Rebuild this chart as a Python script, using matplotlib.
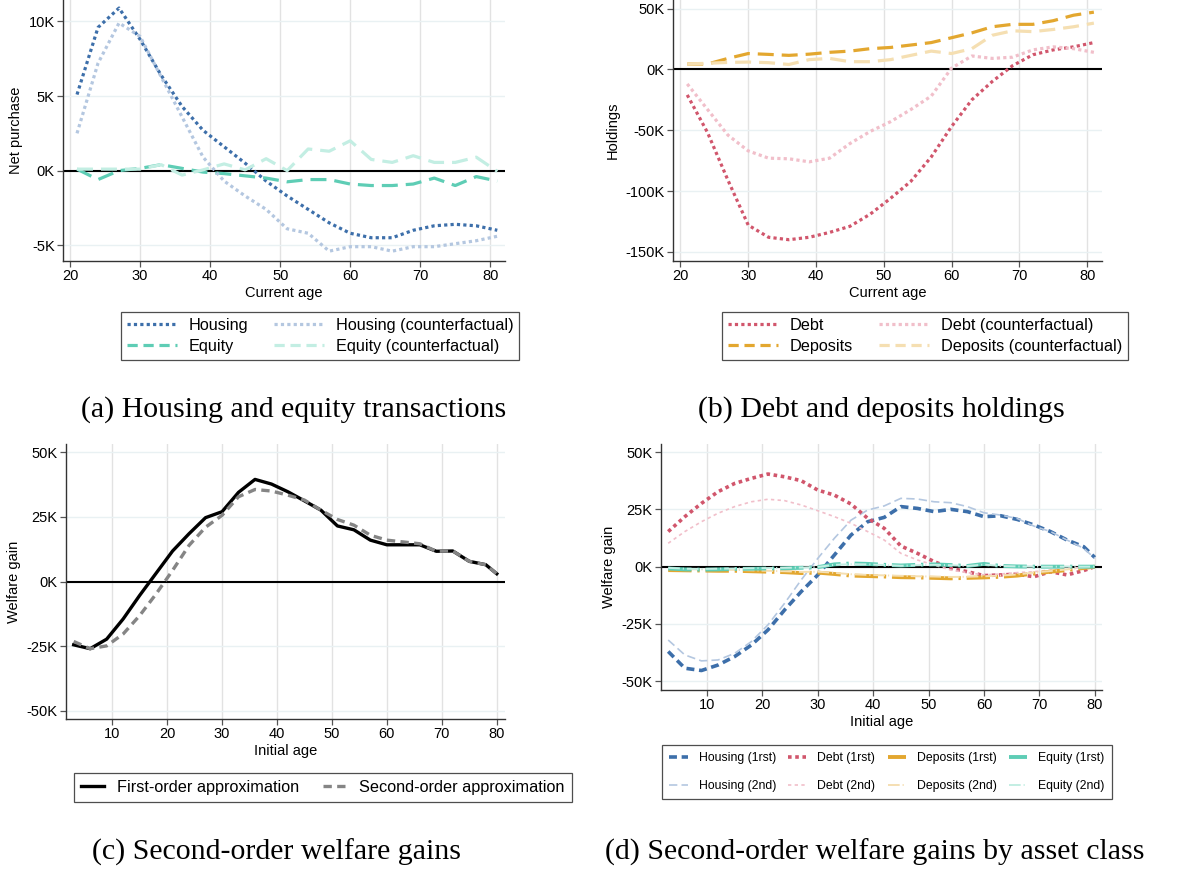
#!/usr/bin/env python3
"""
Four-panel figure: net purchases, holdings and welfare gains by age.
Values are in thousands (K).
"""

import matplotlib
matplotlib.use("Agg")
import matplotlib.pyplot as plt
from matplotlib.lines import Line2D
from matplotlib.ticker import FuncFormatter

plt.rcParams["font.family"] = ["Liberation Sans", "DejaVu Sans"]

# ----------- data (thousands) -----------
ages_ab = [21, 24, 27, 30, 33, 36, 39, 42, 45, 48, 51, 54, 57, 60, 63, 66, 69, 72, 75, 78, 81]

housing = [5.1, 9.6, 10.9, 8.8, 6.4, 4.3, 2.7, 1.6, 0.5, -0.7, -1.7, -2.6, -3.5, -4.2,
           -4.5, -4.5, -4.0, -3.7, -3.6, -3.7, -4.0]
housing_cf = [2.5, 7.2, 9.9, 9.0, 6.3, 3.6, 0.9, -0.7, -1.7, -2.6, -3.9, -4.2, -5.4, -5.1,
              -5.1, -5.4, -5.1, -5.1, -4.9, -4.7, -4.4]
equity = [0.1, -0.6, 0.0, 0.15, 0.4, 0.15, -0.1, -0.2, -0.35, -0.5, -0.75, -0.6, -0.6, -0.9,
          -1.0, -1.0, -0.9, -0.5, -1.0, -0.4, -0.7]
equity_cf = [0.1, 0.1, 0.1, 0.1, 0.4, -0.3, 0.05, 0.45, 0.05, 0.8, 0.0, 1.45, 1.3, 2.0,
             0.75, 0.55, 1.0, 0.55, 0.55, 0.9, -0.05]

debt = [-21, -52, -91, -128, -138, -140, -138, -134, -129, -119, -106, -92, -72, -47,
        -25, -10, 3, 12, 16, 18.5, 22]
debt_cf = [-12, -33, -54, -67, -73, -73.5, -76, -73, -61, -51, -43, -33, -22, 1,
           11, 9, 10, 16, 18.5, 17, 14]
deposits = [4.4, 4.4, 9, 13, 12.3, 11.5, 12.5, 14, 15, 17, 18, 20, 22, 26,
            30, 35, 37, 37, 40, 44.5, 47]
deposits_cf = [4.4, 5, 5.7, 6, 5.5, 4, 8, 9, 6.3, 6.3, 8, 11.5, 15, 13,
               17, 28, 31.7, 31, 32.8, 35, 38]

ages_cd = [3, 6, 9, 12, 15, 18, 21, 24, 27, 30, 33, 36, 39, 42, 45, 48, 51, 54, 57, 60,
           63, 66, 69, 72, 75, 78, 80]

first_order = [-24.5, -26, -22.3, -14.5, -5.4, 3.2, 11.8, 18.5, 24.7, 27, 34.5, 39.5, 37.7,
               34.7, 31.2, 27.6, 21.5, 20, 16, 14.2, 14.2, 14.2, 11.7, 11.8, 7.8, 6.5, 3]
second_order = [-23.2, -26, -24.9, -20.3, -13.2, -4.8, 4.3, 14, 21, 25.6, 32.8, 35.6, 35,
                33.4, 31.5, 27.6, 24, 21.8, 17.9, 16, 15.3, 14.6, 11.7, 11.8, 7.8, 6.5, 3]

housing_1st = [-37, -44.3, -45.3, -42.9, -39.2, -34.2, -27.6, -18.9, -10.9, -3.6, 5.1, 13.8,
               19.6, 21.5, 26.2, 25.4, 24, 25, 24, 21.8, 22.2, 20.6, 18.2, 15.3, 11.6, 8.7, 4]
housing_2nd = [-32, -38.5, -41.1, -40.7, -37.8, -32.7, -25.4, -16, -5.8, 3.6, 12.4, 20.3,
               24.7, 26.5, 29.8, 29.5, 28.3, 27.9, 26.2, 23.5, 22.5, 21, 17.7, 15.3, 11.6, 8, 3.6]
debt_1st = [15.3, 21.8, 27.6, 32.7, 36.3, 38.5, 40.4, 39.2, 37.5, 33.4, 31.2, 27.3, 21.1,
            16.7, 9, 5.8, 2.2, -0.7, -2.2, -3.9, -3.6, -3.3, -4.4, -2.2, -3.6, -1.7, 0]
debt_2nd = [10.2, 15.3, 19.6, 23.3, 26.2, 28.3, 29.4, 28.8, 26.9, 24.4, 21.8, 18.9, 15.3,
            11.6, 5.8, 2.9, 0.7, -1.5, -2.6, -3.6, -3.2, -2.6, -2.2, -1.5, -0.7, -0.3, 0]
deposits_1st = [-1.5, -1.6, -1.7, -1.8, -1.8, -2.0, -2.2, -2.4, -2.8, -2.6, -3.2, -3.9, -4.1,
                -4.3, -4.6, -4.7, -4.9, -5.1, -4.9, -4.7, -4.4, -3.9, -3.0, -2.2, -1.5, -0.6, 0]
deposits_2nd = [-1.0, -1.1, -1.2, -1.3, -1.4, -1.6, -1.8, -2.0, -2.3, -2.2, -2.7, -3.3, -3.6,
                -3.8, -4.0, -4.2, -4.3, -4.5, -4.4, -4.2, -3.9, -3.4, -2.6, -1.9, -1.2, -0.5, 0]
equity_1st = [-0.8, -1.2, -1.3, -1.2, -1.0, -0.9, -0.8, -0.7, -0.5, -0.2, 1.0, 1.4, 1.2,
              0.8, 0.5, 0.8, 1.0, 0.7, 0.3, 1.2, 0.3, 0.1, 0, 0, 0, 0, 0]
equity_2nd = [-0.5, -0.9, -1.0, -0.9, -0.8, -0.7, -0.6, -0.5, -0.4, -0.1, 0.8, 1.1, 1.0,
              0.7, 0.4, 0.6, 0.8, 0.6, 0.3, 0.9, 0.3, 0.1, 0, 0, 0, 0, 0]

# ----------- colours -----------
C_HOUS, C_HOUS_L = "#3d6faa", "#b4c7e0"
C_EQ, C_EQ_L = "#5ecdb5", "#c3eee3"
C_DEBT, C_DEBT_L = "#d1566c", "#f1bfca"
C_DEP, C_DEP_L = "#e3a72f", "#f5dfb2"

W, H = 1178, 874
DOT = (0, (1, 1))
LDASH = (0, (5, 2.5))
LEG_DASH = (0, (3.2, 1.8))   # shorter dashes for legend keys
DASHDOT = (0, (6, 1.5, 0.6, 1.5))


def px_axes(fig, left, right, top, bottom):
    """Axes from pixel edges (top may be <0 to run off the figure)."""
    return fig.add_axes([left / W, 1 - bottom / H, (right - left) / W, (bottom - top) / H])


def style(ax, xticks, yticks, xlim, ylim, xlabel, ylabel):
    ax.set_xlim(*xlim); ax.set_ylim(*ylim)
    ax.set_xticks(xticks); ax.set_yticks(yticks)
    ax.yaxis.set_major_formatter(FuncFormatter(lambda v, p: f"{v:.0f}K"))
    for s in ("top", "right"):
        ax.spines[s].set_visible(False)
    for s in ("left", "bottom"):
        ax.spines[s].set_color("#333333"); ax.spines[s].set_linewidth(1.0)
    ax.tick_params(direction="out", length=4, width=0.9, color="#555555",
                   labelsize=10.5, pad=2)
    for x in xticks:
        ax.axvline(x, color="#e2e2e2", lw=1.0, zorder=0)
    for y in yticks:
        ax.axhline(y, color="#e9f1f3", lw=1.0, zorder=0)
    ax.axhline(0, color="black", lw=1.5, zorder=1.5)
    ax.set_xlabel(xlabel, fontsize=10.5, labelpad=2)
    ax.set_ylabel(ylabel, fontsize=10.5, labelpad=4)


def legend(fig, ax, cx, cy, ncol, fs, hl, handles=None, **kw):
    if handles is None:
        handles, _ = ax.get_legend_handles_labels()
    leg = ax.legend(handles=handles, loc="center", bbox_to_anchor=(cx / W, 1 - cy / H),
                    bbox_transform=fig.transFigure, ncol=ncol, fontsize=fs,
                    handlelength=hl, frameon=True, fancybox=False, borderaxespad=0, **kw)
    leg.get_frame().set_edgecolor("#222222")
    leg.get_frame().set_linewidth(0.9)
    return leg


def key(color, ls, label, lw=2.3):
    return Line2D([], [], color=color, ls=ls, lw=lw, label=label)


def caption(fig, x, y, text):
    fig.text(x / W, 1 - y / H, text, ha="center", va="center",
             fontsize=21.5, family=["Liberation Serif", "DejaVu Serif"])


def main() -> None:
    fig = plt.figure(figsize=(W / 100, H / 100), dpi=100)

    # (a) housing and equity
    ax = px_axes(fig, 63, 505, 0, 261)
    style(ax, [20, 30, 40, 50, 60, 70, 80], [-5, 0, 5, 10], (19, 82.1), (-6.06, 11.44),
          "Current age", "Net purchase")
    ax.plot(ages_ab, housing, color=C_HOUS, lw=2.3, ls=DOT)
    ax.plot(ages_ab, equity, color=C_EQ, lw=2.3, ls=LDASH)
    ax.plot(ages_ab, housing_cf, color=C_HOUS_L, lw=2.3, ls=DOT)
    ax.plot(ages_ab, equity_cf, color=C_EQ_L, lw=2.3, ls=LDASH)
    keys = [key(C_HOUS, DOT, "Housing"), key(C_EQ, LEG_DASH, "Equity"),
            key(C_HOUS_L, DOT, "Housing (counterfactual)"),
            key(C_EQ_L, LEG_DASH, "Equity (counterfactual)")]
    legend(fig, ax, 320, 336, 2, 11.7, 3.1, handles=keys, columnspacing=1.6,
           labelspacing=0.35, handletextpad=0.7, borderpad=0.35)
    caption(fig, 294, 410, "(a) Housing and equity transactions")

    # (b) debt and deposits
    ax = px_axes(fig, 673, 1102, 0, 261)
    style(ax, [20, 30, 40, 50, 60, 70, 80], [-150, -100, -50, 0, 50], (18.9, 82.2),
          (-157.5, 57), "Current age", "Holdings")
    ax.plot(ages_ab, debt, color=C_DEBT, lw=2.3, ls=DOT)
    ax.plot(ages_ab, deposits, color=C_DEP, lw=2.3, ls=LDASH)
    ax.plot(ages_ab, debt_cf, color=C_DEBT_L, lw=2.3, ls=DOT)
    ax.plot(ages_ab, deposits_cf, color=C_DEP_L, lw=2.3, ls=LDASH)
    keys = [key(C_DEBT, DOT, "Debt"), key(C_DEP, LEG_DASH, "Deposits"),
            key(C_DEBT_L, DOT, "Debt (counterfactual)"),
            key(C_DEP_L, LEG_DASH, "Deposits (counterfactual)")]
    legend(fig, ax, 925, 336, 2, 11.7, 3.1, handles=keys, columnspacing=1.6,
           labelspacing=0.35, handletextpad=0.7, borderpad=0.35)
    caption(fig, 881, 410, "(b) Debt and deposits holdings")

    # (c) second-order welfare gains
    ax = px_axes(fig, 66, 505, 444, 719)
    style(ax, [10, 20, 30, 40, 50, 60, 70, 80], [-50, -25, 0, 25, 50], (1.6, 81.5),
          (-53.2, 53.2), "Initial age", "Welfare gain")
    ax.plot(ages_cd, first_order, color="black", lw=2.4, label="First-order approximation")
    ax.plot(ages_cd, second_order, color="#858585", lw=2.4, ls=(0, (2.5, 1.6)),
            label="Second-order approximation")
    legend(fig, ax, 322.5, 787.5, 2, 11.7, 1.4, columnspacing=1.5, handletextpad=0.8,
           borderpad=0.45)
    caption(fig, 277, 852, "(c) Second-order welfare gains")

    # (d) welfare gains by asset class
    ax = px_axes(fig, 661, 1102, 444, 690)
    style(ax, [10, 20, 30, 40, 50, 60, 70, 80], [-50, -25, 0, 25, 50], (1.7, 81.3),
          (-53.8, 53.5), "Initial age", "Welfare gain")
    ax.plot(ages_cd, housing_1st, color=C_HOUS, lw=2.6, ls=(0, (2.2, 1.3)), label="Housing (1rst)")
    ax.plot(ages_cd, housing_2nd, color=C_HOUS_L, lw=1.2, ls=(0, (5, 2.5)), label="Housing (2nd)")
    ax.plot(ages_cd, debt_1st, color=C_DEBT, lw=2.6, ls=DOT, label="Debt (1rst)")
    ax.plot(ages_cd, debt_2nd, color=C_DEBT_L, lw=1.2, ls=(0, (2, 2)), label="Debt (2nd)")
    ax.plot(ages_cd, deposits_1st, color=C_DEP, lw=2.8, ls=DASHDOT, label="Deposits (1rst)")
    ax.plot(ages_cd, deposits_2nd, color=C_DEP_L, lw=1.4, ls=DASHDOT, label="Deposits (2nd)")
    ax.plot(ages_cd, equity_1st, color=C_EQ, lw=2.8, ls=DASHDOT, label="Equity (1rst)")
    ax.plot(ages_cd, equity_2nd, color=C_EQ_L, lw=1.4, ls=DASHDOT, label="Equity (2nd)")
    legend(fig, ax, 887, 772, 4, 8.8, 1.5, columnspacing=1.0, labelspacing=1.3,
           handletextpad=0.9, borderpad=0.6)
    caption(fig, 875, 852, "(d) Second-order welfare gains by asset class")

    fig.savefig("out.png", dpi=100)
    plt.close(fig)


if __name__ == "__main__":
    main()
